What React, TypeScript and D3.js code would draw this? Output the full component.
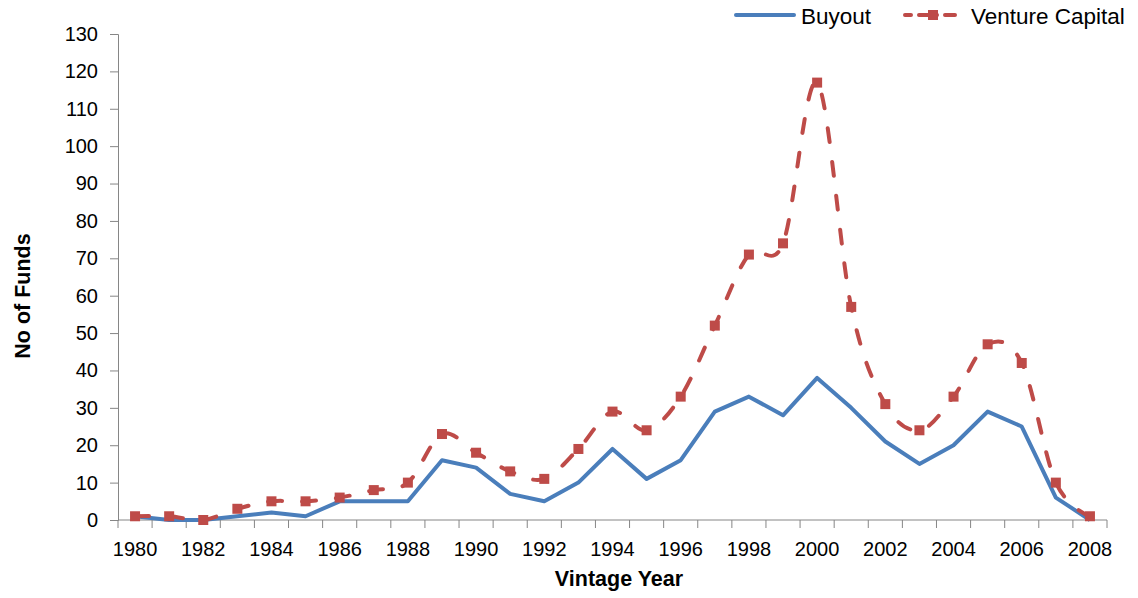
import React, { useEffect, useRef } from 'react';
import * as d3 from 'd3';

const years = d3.range(1980, 2009).map(String);
const buyout = [1, 0, 0, 1, 2, 1, 5, 5, 5, 16, 14, 7, 5, 10, 19, 11, 16, 29, 33, 28, 38, 30, 21, 15, 20, 29, 25, 6, 0];
const ventureCapital = [1, 1, 0, 3, 5, 5, 6, 8, 10, 23, 18, 13, 11, 19, 29, 24, 33, 52, 71, 74, 117, 57, 31, 24, 33, 47, 42, 10, 1];
const yTicks = d3.range(0, 131, 10);
const xTickLabels = years.filter((y, i) => i % 2 === 0);

const App = () => {
    const ref = useRef<SVGSVGElement>(null);

    useEffect(() => {
        const width = 1138;
        const height = 598;
        const margin = { top: 34, right: 31, bottom: 78, left: 118 };
        const font = 'Liberation Sans, Arial, sans-serif';
        const blue = '#4a7ebb';
        const red = '#be4b48';
        const axisColor = '#868686';

        const svg = d3.select(ref.current);
        svg.selectAll('*').remove();

        const x = d3.scaleBand().domain(years).range([margin.left, width - margin.right]);
        const y = d3.scaleLinear().domain([0, 130]).range([height - margin.bottom, margin.top]);
        const cx = (i: number) => (x(years[i]) as number) + x.bandwidth() / 2;

        // y axis
        const yAxis = svg.append('g')
            .attr('transform', `translate(${margin.left},0)`)
            .call(d3.axisLeft(y).tickValues(yTicks).tickSize(8).tickPadding(12));
        yAxis.select('.domain').attr('stroke', axisColor);
        yAxis.selectAll('.tick line').attr('stroke', axisColor);
        yAxis.selectAll('.tick text').attr('font-family', font).attr('font-size', 20).attr('fill', '#000');

        // x axis, ticks between categories
        const xAxis = svg.append('g').attr('transform', `translate(0,${y(0)})`);
        xAxis.append('line')
            .attr('x1', margin.left).attr('x2', width - margin.right)
            .attr('stroke', axisColor);
        const bounds = years.map(d => x(d) as number).concat([width - margin.right]);
        xAxis.selectAll('line.tk').data(bounds).join('line')
            .attr('class', 'tk')
            .attr('x1', d => d).attr('x2', d => d)
            .attr('y1', 0).attr('y2', 8)
            .attr('stroke', axisColor);
        xAxis.selectAll('text').data(xTickLabels).join('text')
            .attr('x', d => (x(d) as number) + x.bandwidth() / 2)
            .attr('y', 36)
            .attr('text-anchor', 'middle')
            .attr('font-family', font)
            .attr('font-size', 20)
            .text(d => d);

        // lines
        const buyLine = d3.line<number>()
            .x((d, i) => cx(i))
            .y(d => y(d));
        const vcLine = d3.line<number>()
            .x((d, i) => cx(i))
            .y(d => y(d))
            .curve(d3.curveCardinal.tension(0));

        svg.append('path')
            .attr('d', buyLine(buyout))
            .attr('fill', 'none')
            .attr('stroke', blue)
            .attr('stroke-width', 4)
            .attr('stroke-linejoin', 'round');

        svg.append('path')
            .attr('d', vcLine(ventureCapital))
            .attr('fill', 'none')
            .attr('stroke', red)
            .attr('stroke-width', 4)
            .attr('stroke-linecap', 'round')
            .attr('stroke-dasharray', '14 20');

        svg.append('g').selectAll('rect').data(ventureCapital).join('rect')
            .attr('x', (d, i) => cx(i) - 5)
            .attr('y', d => y(d) - 5)
            .attr('width', 10)
            .attr('height', 10)
            .attr('fill', red);

        // axis titles
        svg.append('text')
            .attr('transform', `translate(30,296) rotate(-90)`)
            .attr('text-anchor', 'middle')
            .attr('font-family', font)
            .attr('font-size', 21.5)
            .attr('font-weight', 'bold')
            .text('No of Funds');
        svg.append('text')
            .attr('x', 619)
            .attr('y', 586)
            .attr('text-anchor', 'middle')
            .attr('font-family', font)
            .attr('font-size', 21.5)
            .attr('font-weight', 'bold')
            .text('Vintage Year');

        // legend
        const legend = svg.append('g');
        legend.append('line')
            .attr('x1', 736).attr('x2', 794).attr('y1', 15).attr('y2', 15)
            .attr('stroke', blue).attr('stroke-width', 4).attr('stroke-linecap', 'round');
        legend.append('text')
            .attr('x', 801).attr('y', 23.5)
            .attr('font-family', font).attr('font-size', 22.5)
            .text('Buyout');
        legend.append('line')
            .attr('x1', 905).attr('x2', 955).attr('y1', 15).attr('y2', 15)
            .attr('stroke', red).attr('stroke-width', 4).attr('stroke-linecap', 'round')
            .attr('stroke-dasharray', '6 8 12 0');
        legend.append('rect')
            .attr('x', 928).attr('y', 10).attr('width', 10).attr('height', 10)
            .attr('fill', red);
        legend.append('text')
            .attr('x', 971).attr('y', 23.5)
            .attr('font-family', font).attr('font-size', 22.5)
            .text('Venture Capital');
    }, []);

    return (
        <svg ref={ref} width={1138} height={598}
            style={{ position: 'absolute', left: 0, top: 0, background: '#fff' }} />
    );
};

export default App;
